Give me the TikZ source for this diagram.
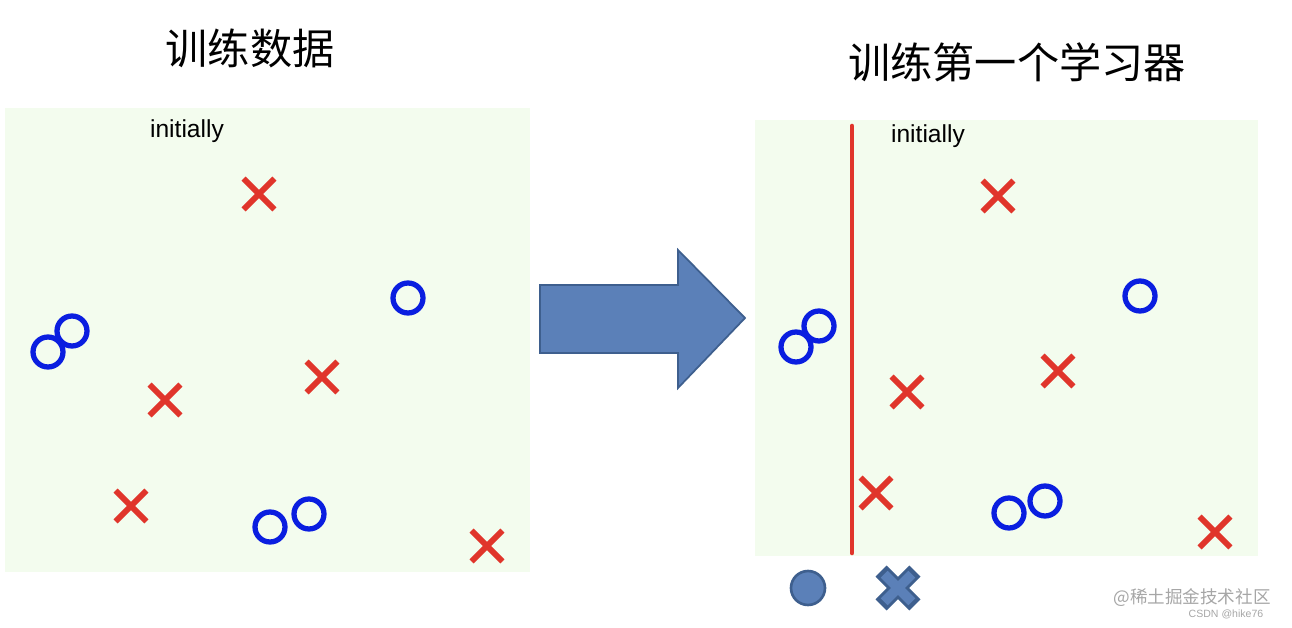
\documentclass[tikz,border=0pt]{standalone}
\usepackage{fontspec}
\setmainfont{Liberation Sans}
\newfontfamily\cjk{Noto Sans CJK SC}
\usetikzlibrary{shapes.misc}
\definecolor{panelgreen}{HTML}{F3FCEE}
\definecolor{xred}{HTML}{E0352B}
\definecolor{oblue}{HTML}{0A1EE0}
\definecolor{arrowfill}{HTML}{5B80B8}
\definecolor{arrowline}{HTML}{3E5F8E}

\begin{document}
\begin{tikzpicture}[x=0.02cm, y=-0.02cm,
    xmark/.style={cross out, draw=xred, line width=3.3pt, minimum size=0.5cm, inner sep=0pt},
    omark/.style={circle, draw=oblue, line width=3pt, minimum size=0.6cm, inner sep=0pt},
    title/.style={font=\cjk\fontsize{24}{26}\selectfont},
    note/.style={font=\fontsize{14}{16}\selectfont}]
    \useasboundingbox (0,0) rectangle (1292,628);
    % panels
    \fill[panelgreen] (5,108) rectangle (530,572);
    \fill[panelgreen] (755,120) rectangle (1258,556);
    \node[title] (tleft) at (250,48) {训练数据};
    \node[title] (tright) at (1017,62) {训练第一个学习器};
    \node[note] (ileft) at (187,131) {initially};
    \node[note] (iright) at (928,136) {initially};

    % training data
    \foreach \n/\x/\y in {a/259/194, b/165/400, c/322/377, d/131/506, e/487/546}
        \node[xmark] (lx\n) at (\x,\y) {};
    \foreach \n/\x/\y in {a/48/352, b/72/331, c/408/298, d/270/527, e/309/514}
        \node[omark] (lo\n) at (\x,\y) {};

    % first learner
    \foreach \n/\x/\y in {a/998/196, b/907/392, c/1058/371, d/876/493, e/1215/532}
        \node[xmark] (rx\n) at (\x,\y) {};
    \foreach \n/\x/\y in {a/796/347, b/819/326, c/1140/296, d/1009/513, e/1045/501}
        \node[omark] (ro\n) at (\x,\y) {};
    \coordinate (stop) at (852,126);
    \coordinate (sbot) at (852,553);
    \draw[xred, line width=2.6pt, line cap=round] (stop) -- (sbot);

    % big arrow
    \draw[fill=arrowfill, draw=arrowline, line width=1pt]
        (540,285) -- (678,285) -- (678,250) -- (745,318) -- (678,388)
        -- (678,353) -- (540,353) -- cycle;

    % legend
    \node[circle, fill=arrowfill, draw=arrowline, line width=1.5pt,
        minimum size=0.68cm, inner sep=0pt] (lego) at (808,588) {};
    \node[cross out, draw=arrowline, line width=9pt, minimum size=0.36cm,
        inner sep=0pt] (legxo) at (898,588) {};
    \node[cross out, draw=arrowfill, line width=5.5pt, minimum size=0.36cm,
        inner sep=0pt] (legx) at (898,588) {};

    % watermark
    \node[gray!70, font=\cjk\fontsize{10}{12}\selectfont] (wm) at (1192,598) {@稀土掘金技术社区};
    \node[gray!70, font=\fontsize{6}{7}\selectfont] (wm2) at (1226,614) {CSDN @hike76};
\end{tikzpicture}
\end{document}
